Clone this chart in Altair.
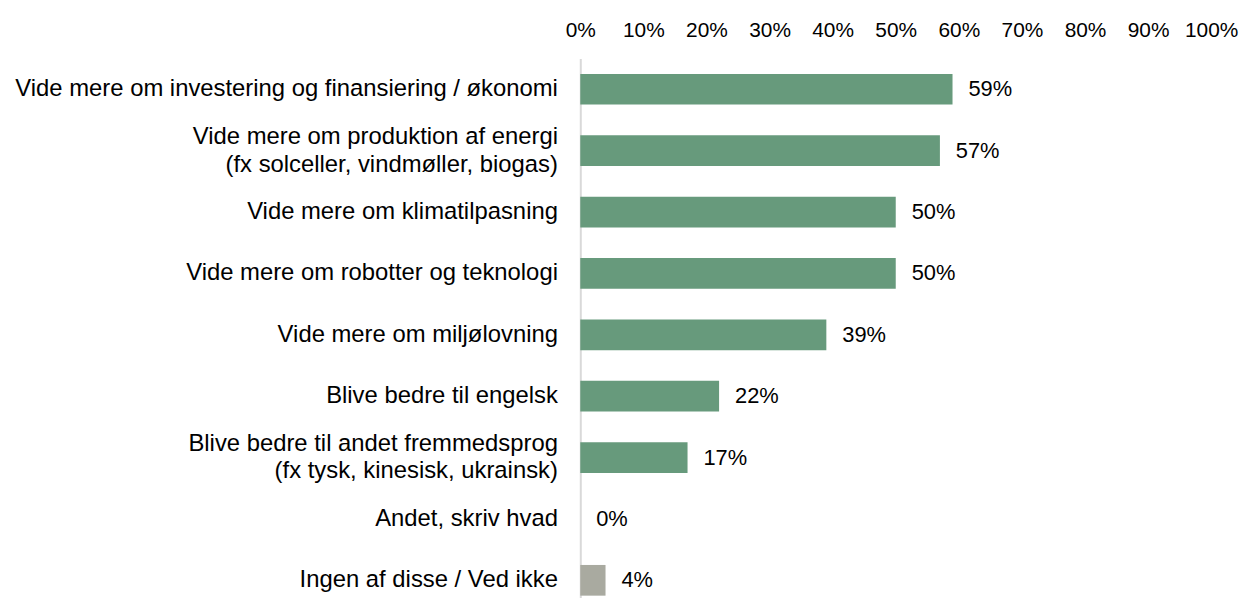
import altair as alt
import pandas as pd

NB = "\u00a0"
categories = [
    "Vide mere om investering og finansiering / økonomi",
    "Vide mere om produktion af energi\n(fx solceller, vindmøller, biogas)" + NB * 2,
    "Vide mere om klimatilpasning",
    "Vide mere om robotter og teknologi",
    "Vide mere om miljølovning",
    "Blive bedre til engelsk",
    "Blive bedre til andet fremmedsprog\n(fx tysk, kinesisk, ukrainsk)" + NB * 7,
    "Andet, skriv hvad",
    "Ingen af disse / Ved ikke",
]
values = [0.59, 0.57, 0.50, 0.50, 0.39, 0.22, 0.17, 0.0, 0.04]
groups = ["main", "main", "main", "main", "main", "main", "main", "main", "other"]
tick_values = [0, 0.1, 0.2, 0.3, 0.4, 0.5, 0.6, 0.7, 0.8, 0.9, 1.0]

df = pd.DataFrame({"cat": categories, "val": values, "grp": groups})

FONT = "Liberation Sans"
CAT_FS = 24
TICK_FS = 21
VAL_FS = 22
LH = 28

y_enc = alt.Y(
    "cat:N",
    sort=None,
    title=None,
    scale=alt.Scale(range=[0, 556], paddingInner=0.5, paddingOuter=0.25),
    axis=alt.Axis(
        labelExpr="split(datum.label, '\\n')",
        labelFont=FONT,
        labelFontSize=CAT_FS,
        labelColor="#000000",
        labelLineHeight=LH,
        labelPadding=23,
        labelLimit=0,
        labelOffset={
            "condition": {"test": "indexof(datum.value, '\\n') >= 0", "value": -LH / 2},
            "value": 0,
        },
        ticks=False,
        domainColor="#D9D9D9",
        domainWidth=2,
        grid=False,
    ),
)

x_enc = alt.X(
    "val:Q",
    title=None,
    scale=alt.Scale(domain=[0, 1], nice=False),
    axis=alt.Axis(
        orient="top",
        values=tick_values,
        format=".0%",
        labelFont=FONT,
        labelFontSize=TICK_FS,
        labelColor="#000000",
        labelPadding=18,
        labelFlush=False,
        labelOverlap=False,
        ticks=False,
        domain=False,
        grid=False,
    ),
)

bars = alt.Chart(df).mark_bar().encode(
    x=x_enc,
    y=y_enc,
    color=alt.Color(
        "grp:N",
        scale=alt.Scale(domain=["main", "other"], range=["#679A7C", "#A9AAA0"]),
        legend=None,
    ),
)

labels = alt.Chart(df).mark_text(
    align="left", baseline="middle", dx=16, font=FONT, fontSize=VAL_FS, color="#000000"
).encode(
    x=alt.X("val:Q"),
    y=alt.Y("cat:N", sort=None),
    text=alt.Text("val:Q", format=".0%"),
)

chart = (
    alt.layer(bars, labels)
    .properties(
        width=635,
        height=541,
        background="#ffffff",
        autosize=alt.AutoSizeParams(type="none"),
        padding={"left": 576, "top": 49, "right": 30, "bottom": 0},
    )
    .configure_view(strokeWidth=0, stroke="transparent")
)

chart.save("out.html", embed_options={"renderer": "svg", "actions": False})
